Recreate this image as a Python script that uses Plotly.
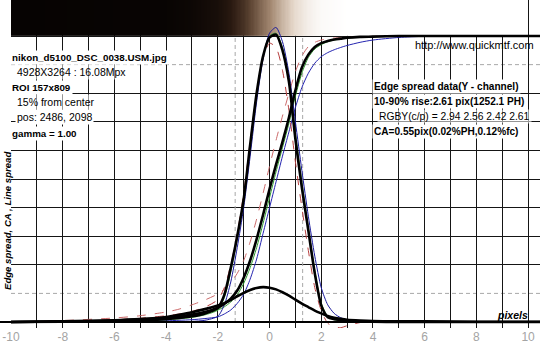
import numpy as np
import plotly.graph_objects as go

# ---------------- data ----------------
X = [-10, -8, -6, -5, -4, -3.5, -3, -2.5, -2, -1.75, -1.5, -1.25, -1, -0.75, -0.5, -0.25,
     0, 0.25, 0.5, 0.75, 1, 1.25, 1.5, 1.75, 2, 2.25, 2.5, 2.75, 3, 3.5, 4, 5, 6, 8, 10, 10.46]

Y_ESF = [0.0, 0.002, 0.005, 0.009, 0.015, 0.02, 0.026, 0.035, 0.05, 0.063, 0.082, 0.11, 0.155, 0.215, 0.29, 0.375,
         0.465, 0.55, 0.63, 0.715, 0.81, 0.89, 0.935, 0.962, 0.975, 0.983, 0.988, 0.991, 0.994, 0.997, 0.998,
         1.0, 1.0, 1.0, 1.0, 1.0]
Y_LSF = [0.0, 0.001, 0.003, 0.005, 0.01, 0.014, 0.02, 0.03, 0.05, 0.095, 0.19, 0.3, 0.43, 0.62, 0.8, 0.93,
         0.995, 1.005, 0.95, 0.84, 0.64, 0.47, 0.32, 0.17, 0.058, 0.017, 0.01, 0.007, 0.005, 0.002, 0.001,
         0.0, 0.0, 0.0, 0.0, 0.0]
CA_CURVE = [0.0, 0.002, 0.006, 0.01, 0.017, 0.025, 0.034, 0.045, 0.058, 0.066, 0.077, 0.09, 0.102, 0.112, 0.119, 0.122,
            0.12, 0.114, 0.104, 0.092, 0.078, 0.064, 0.052, 0.04, 0.03, 0.021, 0.015, 0.011, 0.008, 0.005, 0.003,
            0.002, 0.002, 0.001, 0.001, 0.001]

R_ESF = [0.0, 0.005, 0.014, 0.022, 0.035, 0.045, 0.06, 0.077, 0.098, 0.115, 0.138, 0.17, 0.215, 0.28, 0.36, 0.45,
         0.545, 0.635, 0.72, 0.8, 0.875, 0.93, 0.963, 0.978, 0.986, 0.99, 0.993, 0.995, 0.996, 0.998, 0.999,
         1.0, 1.0, 1.0, 1.0, 1.0]
G_ESF = [0.0, 0.001, 0.004, 0.007, 0.012, 0.016, 0.022, 0.03, 0.042, 0.053, 0.07, 0.095, 0.135, 0.19, 0.26, 0.345,
         0.435, 0.525, 0.61, 0.695, 0.79, 0.87, 0.925, 0.955, 0.97, 0.98, 0.986, 0.99, 0.993, 0.996, 0.998,
         1.0, 1.0, 1.0, 1.0, 1.0]
B_ESF = [0.0, 0.0, 0.001, 0.002, 0.004, 0.006, 0.008, 0.012, 0.018, 0.028, 0.042, 0.065, 0.097, 0.15, 0.22, 0.31,
         0.4, 0.49, 0.58, 0.665, 0.75, 0.82, 0.87, 0.905, 0.928, 0.942, 0.952, 0.96, 0.967, 0.978, 0.986,
         0.995, 0.999, 1.0, 1.0, 1.0]

R_LSF = [0.0, 0.003, 0.008, 0.013, 0.022, 0.028, 0.037, 0.052, 0.078, 0.12, 0.2, 0.31, 0.45, 0.63, 0.8, 0.92,
         0.975, 0.96, 0.88, 0.74, 0.56, 0.4, 0.25, 0.12, 0.04, -0.004, -0.017, -0.02, -0.013, -0.002, 0.001,
         0.0, 0.0, 0.0, 0.0, 0.0]
G_LSF = [0.0, 0.001, 0.002, 0.004, 0.008, 0.011, 0.016, 0.025, 0.042, 0.085, 0.175, 0.29, 0.42, 0.61, 0.79, 0.93,
         1.0, 1.01, 0.96, 0.85, 0.66, 0.49, 0.33, 0.18, 0.065, 0.02, 0.008, 0.004, 0.003, 0.001, 0.0,
         0.0, 0.0, 0.0, 0.0, 0.0]
B_LSF = [0.0, 0.0, 0.0, 0.0, 0.0, 0.0, 0.002, 0.006, 0.02, 0.06, 0.14, 0.26, 0.4, 0.58, 0.77, 0.92,
         1.01, 1.03, 0.98, 0.87, 0.7, 0.53, 0.37, 0.23, 0.12, 0.06, 0.03, 0.015, 0.008, 0.003, 0.001,
         0.0, 0.0, 0.0, 0.0, 0.0]

# 10% / 90% edge positions and levels
RISE_X = [-1.33, 1.28]
RISE_LEVELS = [0.1, 0.9]

# edge image strip (brightness across the edge)
STRIP_X = [-10, -4, -3, -2, -1.5, -1, -0.5, 0, 0.5, 1, 1.5, 2, 3, 10]
STRIP_V = [0.0, 0.01, 0.03, 0.08, 0.15, 0.26, 0.42, 0.58, 0.74, 0.87, 0.94, 0.98, 1.0, 1.0]

X_TICKS = [-10, -8, -6, -4, -2, 0, 2, 4, 6, 8, 10]
X_TICK_TEXT = ["-10", "-8", "-6", "-4", "-2", "0", "2", "4", "6", "8", "10"]
Y_GRID = [0.2, 0.3, 0.4, 0.5, 0.6, 0.7, 0.8, 1.0]

# ---------------- figure ----------------
W, H = 540, 360
ML, MB = 11, 32
PW, PH = W - ML, H - MB
FONT = "Liberation Sans, Arial, sans-serif"

fig = go.Figure()

# edge strip image
edges = np.linspace(-10, 10, 401)
centers = (edges[:-1] + edges[1:]) / 2
zrow = np.interp(centers, STRIP_X, STRIP_V)
fig.add_trace(go.Heatmap(
    x=edges, y=[1.0, 1.13], z=[zrow],
    colorscale=[[0, "rgb(6,3,2)"], [0.15, "rgb(40,24,16)"], [0.35, "rgb(95,70,52)"],
                [0.6, "rgb(165,138,115)"], [0.85, "rgb(228,214,200)"], [1, "rgb(255,255,255)"]],
    zmin=0, zmax=1, showscale=False, hoverinfo="skip"))

def line(y, color, width, dash="solid"):
    fig.add_trace(go.Scatter(x=X, y=y, mode="lines",
                             line=dict(color=color, width=width, dash=dash, shape="spline", smoothing=0.7),
                             hoverinfo="skip", showlegend=False))

line(R_ESF, "#cc6a6a", 1, "dash")
line(G_ESF, "#2e9a2e", 1)
line(B_ESF, "#2424b0", 1)
line(R_LSF, "#b84040", 1, "dash")
line(G_LSF, "#3f9f3f", 1)
line(B_LSF, "#1a1a9c", 1)
line(CA_CURVE, "#000000", 2.6)
line(Y_ESF, "#000000", 2.6)
line(Y_LSF, "#000000", 2.6)

shapes = []
# mask below zero so grid stops at axis
shapes.append(dict(type="rect", xref="paper", yref="y", x0=0, x1=1, y0=-0.03, y1=0,
                   fillcolor="white", line=dict(width=0), layer="between"))
for lv in RISE_LEVELS:
    shapes.append(dict(type="line", xref="paper", yref="y", x0=0, x1=1, y0=lv, y1=lv,
                       line=dict(color="#a8a8a8", width=1, dash="4px,3px"), layer="between"))
for rx in RISE_X:
    shapes.append(dict(type="line", xref="x", yref="y", x0=rx, x1=rx, y0=0, y1=1.0,
                       line=dict(color="#a8a8a8", width=1, dash="4px,3px"), layer="between"))
# x axis line (extends to left edge)
shapes.append(dict(type="line", xref="paper", yref="y", x0=-ML / PW, x1=1, y0=0, y1=0,
                   line=dict(color="#000000", width=2.2), layer="above"))

def px(xp):
    return (xp - ML) / PW

def py(yp):
    return (PH - yp) / PH

anns = []
def ann(text, x, y, size, bold=False, bg="white", italic=False, anchor="left", angle=0):
    t = text
    if italic:
        t = "<i>" + t + "</i>"
    if bold:
        t = "<b>" + t + "</b>"
    anns.append(dict(text=t, xref="paper", yref="paper", x=px(x), y=py(y), xanchor=anchor,
                     yanchor="middle", showarrow=False, textangle=angle,
                     font=dict(family=FONT, size=size, color="#000000"),
                     bgcolor=bg, borderpad=1))

ann("nikon_d5100_DSC_0038.USM.jpg", 10, 57, 9.8, bold=True)
ann("4928X3264 : 16.08Mpx", 15, 72, 10.5, bg="rgba(255,255,255,0.55)")
ann("ROI 157x809", 10, 87, 9.8, bold=True)
ann("15% from center", 15, 102, 10.5, bg="rgba(255,255,255,0.55)")
ann("pos: 2486, 2098", 15, 117, 10.5, bg="white")
ann("gamma = 1.00", 10, 133, 9.8, bold=True)

ann("http://www.quickmtf.com", 413, 45, 11, bg="rgba(255,255,255,0)")
ann("Edge spread data(Y - channel)", 372, 86, 10.1, bold=True)
ann("10-90% rise:2.61 pix(1252.1 PH)", 372, 101, 10.1, bold=True)
ann("RGBY(c/p) = 2.94 2.56 2.42 2.61", 377, 116, 10.3, bg="rgba(255,255,255,0.55)")
ann("CA=0.55pix(0.02%PH,0.12%fc)", 372, 131, 10.1, bold=True)

ann("Edge spread, CA , Line spread", 7, 221, 9.6, bold=True, italic=True, bg="rgba(255,255,255,0)",
    anchor="center", angle=-90)
ann("pixels", 530, 315, 10.5, bold=True, italic=True, bg="rgba(255,255,255,0)", anchor="right")

fig.update_layout(
    width=W, height=H,
    margin=dict(l=ML, r=0, t=0, b=MB, pad=0),
    paper_bgcolor="white", plot_bgcolor="white",
    showlegend=False,
    shapes=shapes, annotations=anns,
    xaxis=dict(range=[-10, 10.46], tickvals=X_TICKS, ticktext=X_TICK_TEXT,
               showgrid=True, gridcolor="#151515", gridwidth=1.4,
               minor=dict(dtick=1, tick0=0, showgrid=True, gridcolor="#151515", gridwidth=1.4),
               zeroline=False, showline=False, ticks="", ticklen=0,
               tickfont=dict(family=FONT, size=12, color="#a4a4a4"), fixedrange=True),
    yaxis=dict(range=[-0.021, 1.126], tickvals=Y_GRID, showticklabels=False,
               showgrid=True, gridcolor="#151515", gridwidth=1.4,
               zeroline=False, showline=False, ticks="", fixedrange=True),
)

fig.write_html("out.html", config={"displayModeBar": False},
               post_script="document.body.style.margin='0';document.body.style.padding='0';")
